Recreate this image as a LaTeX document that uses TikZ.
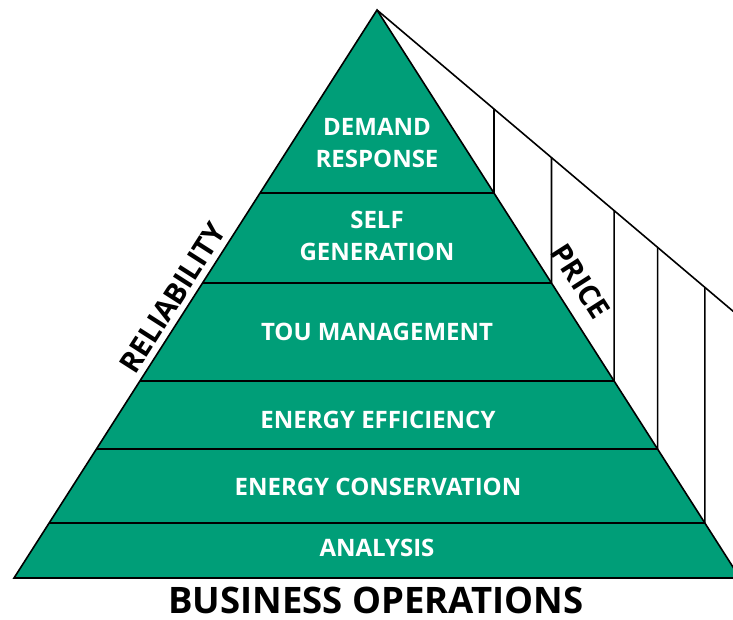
\documentclass[tikz,border=0pt]{standalone}
\usepackage{fontspec}
\setmainfont{Open Sans}
\usetikzlibrary{calc}

\definecolor{pyrgreen}{RGB}{0,158,120}

\tikzset{
  layer/.style={text=white, font=\bfseries\fontsize{24}{32}\selectfont, align=center},
  side/.style={font=\bfseries\fontsize{29}{34}\selectfont, inner sep=0pt},
}

\begin{document}
\begin{tikzpicture}[x=1pt, y=-1pt, line width=1.6pt]
\useasboundingbox (0,0) rectangle (733,619);
\begin{scope}
\clip (0,0) rectangle (733,619);
% corners of the pyramid and the price line
\coordinate (top) at (377,10);
\coordinate (bl) at (14,578);
\coordinate (br) at (740,578);
\coordinate (far) at (760,334);
\fill[pyrgreen] (bl) -- (top) -- (br) -- cycle;
\draw (bl) -- (top) -- (br) -- cycle;
\draw (top) -- (far);
% layer borders, and the price steps at their right ends
\foreach \t in {0.0968,0.2271,0.3468,0.5194,0.6778} {
  \coordinate (l) at ($(bl)!\t!(top)$);
  \coordinate (r) at ($(br)!\t!(top)$);
  \draw (l) -- (r);
  \draw (r) -- (intersection of r--{$(r)+(0,-10)$} and top--far);
}
\end{scope}

% layer names
\node[layer] (dr) at (377,143) {DEMAND\\RESPONSE};
\node[layer] (sg) at (377,236) {SELF\\GENERATION};
\node[layer] (tou) at (377,332) {TOU MANAGEMENT};
\node[layer] (ee) at (378,420) {ENERGY EFFICIENCY};
\node[layer] (ec) at (378,487) {ENERGY CONSERVATION};
\node[layer] (an) at (377,548) {ANALYSIS};

% side labels
\path (bl) -- (top) node[side, sloped, pos=0.477, above=6pt] (rel) {RELIABILITY};
\path (top) -- (br) node[side, sloped, pos=0.502, above=14pt] (price) {PRICE};
\node[side, font=\bfseries\fontsize{36.5}{40}\selectfont] (ops) at (376,600) {BUSINESS OPERATIONS};
\end{tikzpicture}
\end{document}
